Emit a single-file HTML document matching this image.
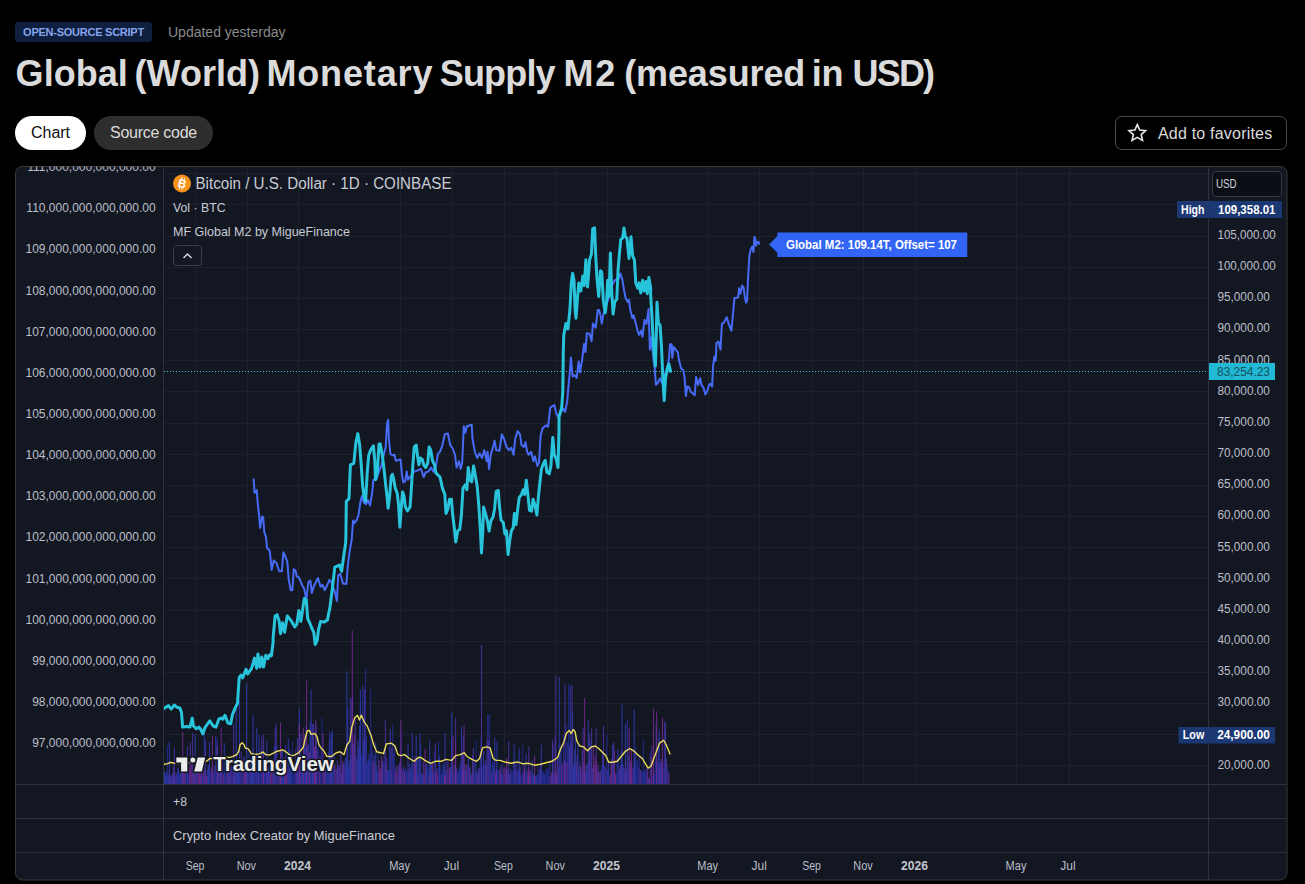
<!DOCTYPE html>
<html><head><meta charset="utf-8"><title>Global (World) Monetary Supply M2 (measured in USD)</title>
<style>
html,body{margin:0;padding:0;background:#000;}
body{width:1305px;height:884px;position:relative;overflow:hidden;font-family:"Liberation Sans", sans-serif;}
.abs{position:absolute;white-space:nowrap;}
.badge{left:15px;top:22px;width:137px;height:20px;background:#0f1f40;border-radius:3px;color:#86a5ea;font-weight:bold;font-size:11px;line-height:20px;text-align:center;letter-spacing:-0.25px;}
.upd{left:168px;top:24px;font-size:14px;color:#8a8a8a;line-height:16px;}
h1{margin:0;left:0;top:52px;width:1000px;height:44px;font-size:36px;line-height:44px;color:#dbdbdb;font-weight:bold;}
h1 span{position:absolute;top:0;white-space:nowrap;}
.pill{top:116px;height:34px;border-radius:17px;font-size:16px;line-height:34px;text-align:center;}
.p1{left:15px;width:71px;background:#fff;color:#0f0f0f;}
.p2{left:94px;width:119px;background:#2e2e2e;color:#dbdbdb;letter-spacing:-0.28px;}
.fav{left:1115px;top:116px;width:170px;height:32px;border:1px solid #4a4a4a;border-radius:7px;color:#dbdbdb;font-size:16px;line-height:32px;}
.fav span{position:absolute;left:42px;top:0.5px;letter-spacing:0.2px;}
.fav svg{position:absolute;left:10.5px;top:5.6px;width:20.6px;height:19.2px;}
</style></head><body>
<div class="abs badge">OPEN-SOURCE SCRIPT</div>
<div class="abs upd">Updated yesterday</div>
<h1 class="abs"><span style="left:15.6px;letter-spacing:0.04px">Global </span><span style="left:134.6px;letter-spacing:0.0px">(World) </span><span style="left:266.4px;letter-spacing:0.87px">Monetary </span><span style="left:439.8px;letter-spacing:-0.84px">Supply </span><span style="left:563.5px;letter-spacing:1.8px">M2 </span><span style="left:624.2px;letter-spacing:-0.12px">(measured </span><span style="left:811.8px;letter-spacing:-0.4px">in </span><span style="left:852.5px;letter-spacing:-1.8px">USD)</span></h1>
<div class="abs pill p1">Chart</div>
<div class="abs pill p2">Source code</div>
<div class="abs fav"><svg width="22" height="21" viewBox="0 0 22 21"><path d="M11 1.8l2.7 5.9 6.4.7-4.8 4.3 1.4 6.3L11 15.7 5.3 19l1.4-6.3L1.9 8.4l6.4-.7z" fill="none" stroke="#e6e6e6" stroke-width="1.8" stroke-linejoin="miter"/></svg><span>Add to favorites</span></div>
<svg width="1305" height="884" viewBox="0 0 1305 884" style="position:absolute;left:0;top:0" font-family='"Liberation Sans", sans-serif'>
<defs><clipPath id="box"><rect x="15.5" y="166.5" width="1271.5" height="713.5" rx="7"/></clipPath><clipPath id="pane"><rect x="164" y="167" width="1045" height="617"/></clipPath></defs>
<rect x="15.5" y="166.5" width="1271.5" height="713.5" rx="7" fill="#131722" stroke="#3a3a3a" stroke-width="1"/>
<g clip-path="url(#box)">
<rect x="195" y="167" width="1" height="617" fill="#1d212d"/>
<rect x="247" y="167" width="1" height="617" fill="#1d212d"/>
<rect x="298" y="167" width="1" height="617" fill="#1d212d"/>
<rect x="400" y="167" width="1" height="617" fill="#1d212d"/>
<rect x="452" y="167" width="1" height="617" fill="#1d212d"/>
<rect x="504" y="167" width="1" height="617" fill="#1d212d"/>
<rect x="555" y="167" width="1" height="617" fill="#1d212d"/>
<rect x="607" y="167" width="1" height="617" fill="#1d212d"/>
<rect x="708" y="167" width="1" height="617" fill="#1d212d"/>
<rect x="759" y="167" width="1" height="617" fill="#1d212d"/>
<rect x="812" y="167" width="1" height="617" fill="#1d212d"/>
<rect x="863" y="167" width="1" height="617" fill="#1d212d"/>
<rect x="915" y="167" width="1" height="617" fill="#1d212d"/>
<rect x="1016" y="167" width="1" height="617" fill="#1d212d"/>
<rect x="1069" y="167" width="1" height="617" fill="#1d212d"/>
<rect x="164" y="173" width="1045" height="1" fill="#1d212d"/>
<rect x="164" y="204" width="1045" height="1" fill="#1d212d"/>
<rect x="164" y="236" width="1045" height="1" fill="#1d212d"/>
<rect x="164" y="267" width="1045" height="1" fill="#1d212d"/>
<rect x="164" y="298" width="1045" height="1" fill="#1d212d"/>
<rect x="164" y="329" width="1045" height="1" fill="#1d212d"/>
<rect x="164" y="360" width="1045" height="1" fill="#1d212d"/>
<rect x="164" y="391" width="1045" height="1" fill="#1d212d"/>
<rect x="164" y="423" width="1045" height="1" fill="#1d212d"/>
<rect x="164" y="454" width="1045" height="1" fill="#1d212d"/>
<rect x="164" y="485" width="1045" height="1" fill="#1d212d"/>
<rect x="164" y="516" width="1045" height="1" fill="#1d212d"/>
<rect x="164" y="547" width="1045" height="1" fill="#1d212d"/>
<rect x="164" y="578" width="1045" height="1" fill="#1d212d"/>
<rect x="164" y="610" width="1045" height="1" fill="#1d212d"/>
<rect x="164" y="641" width="1045" height="1" fill="#1d212d"/>
<rect x="164" y="672" width="1045" height="1" fill="#1d212d"/>
<rect x="164" y="703" width="1045" height="1" fill="#1d212d"/>
<rect x="164" y="734" width="1045" height="1" fill="#1d212d"/>
<rect x="164" y="765" width="1045" height="1" fill="#1d212d"/>
<g clip-path="url(#pane)">
<path d="M167.4 784V745.4M169.9 784V775.0M174.2 784V776.7M177.6 784V767.5M179.3 784V775.4M182.7 784V767.4M186.1 784V771.4M187.8 784V762.7M188.6 784V775.0M203.1 784V776.2M209.9 784V770.8M210.7 784V771.7M215.0 784V765.2M217.5 784V745.4M221.8 784V771.2M222.6 784V759.8M225.2 784V768.6M232.8 784V774.4M233.7 784V772.3M240.5 784V767.3M242.2 784V764.3M246.4 784V759.0M249.0 784V750.0M253.2 784V748.1M254.9 784V754.3M257.5 784V766.2M259.2 784V757.0M260.0 784V759.9M260.9 784V747.2M262.6 784V752.1M265.1 784V773.6M266.0 784V763.4M277.0 784V744.7M291.5 784V765.6M292.4 784V741.4M293.2 784V774.0M294.1 784V769.0M294.9 784V762.1M311.9 784V758.1M317.9 784V749.1M318.7 784V743.9M320.4 784V756.2M321.3 784V748.2M322.1 784V717.9M326.4 784V772.0M328.1 784V769.7M331.5 784V770.8M333.2 784V763.8M335.7 784V769.2M345.1 784V759.3M346.8 784V767.8M348.5 784V766.8M352.7 784V694.6M356.1 784V755.7M360.4 784V704.3M361.2 784V755.2M362.1 784V755.8M365.5 784V669.2M367.2 784V763.7M369.7 784V759.1M370.6 784V689.6M371.4 784V741.5M372.3 784V750.8M378.2 784V752.1M383.3 784V761.2M384.2 784V751.4M389.3 784V747.5M392.7 784V724.3M393.5 784V752.7M394.4 784V745.5M397.8 784V773.6M401.2 784V729.9M405.4 784V767.9M407.1 784V772.5M411.4 784V770.4M412.2 784V762.5M416.5 784V772.1M420.7 784V744.2M427.5 784V764.0M428.4 784V768.7M434.3 784V750.6M435.2 784V772.3M438.6 784V740.9M440.3 784V765.8M442.0 784V770.2M442.8 784V763.0M447.1 784V759.6M448.8 784V770.5M451.3 784V739.0M453.9 784V774.8M457.3 784V769.1M459.0 784V770.0M460.7 784V760.4M467.5 784V766.3M474.3 784V774.1M476.0 784V740.3M480.2 784V750.8M482.8 784V771.3M484.5 784V765.0M489.6 784V715.1M493.0 784V760.6M497.2 784V770.8M498.1 784V770.8M498.9 784V768.7M503.2 784V774.5M504.9 784V767.5M508.3 784V768.0M511.7 784V771.6M512.5 784V771.4M513.4 784V758.6M516.8 784V762.0M517.6 784V769.7M519.3 784V769.0M521.0 784V774.0M521.9 784V775.3M522.7 784V745.4M525.3 784V770.7M531.2 784V770.1M538.0 784V766.6M538.9 784V774.6M542.3 784V772.6M543.1 784V770.7M544.8 784V776.7M545.7 784V769.2M546.5 784V771.2M547.4 784V768.9M548.2 784V767.7M549.9 784V761.8M553.3 784V774.1M560.1 784V743.6M562.7 784V763.6M563.5 784V734.9M565.2 784V759.7M566.1 784V724.4M568.6 784V683.7M572.9 784V765.1M579.7 784V761.1M581.4 784V770.8M589.0 784V757.9M590.7 784V740.2M601.8 784V765.8M604.3 784V766.1M606.9 784V734.6M609.4 784V776.4M612.8 784V757.9M617.1 784V756.8M618.8 784V764.4M622.2 784V762.5M628.1 784V769.6M632.4 784V767.7M634.1 784V761.0M635.8 784V746.6M636.6 784V767.0M637.5 784V760.4M638.3 784V766.8M639.2 784V755.9M641.7 784V770.5M642.6 784V772.0M643.4 784V739.0M645.1 784V770.4M646.0 784V773.9M650.2 784V751.2M652.8 784V776.1M654.5 784V774.5M655.3 784V760.4M657.9 784V758.6M663.0 784V761.4M663.8 784V768.9M667.2 784V766.3M668.1 784V769.4" stroke="#212b96" stroke-width="1.1" fill="none" opacity="0.82"/>
<path d="M164.0 784V772.2M164.8 784V771.1M165.7 784V775.6M166.5 784V771.9M168.2 784V776.8M171.6 784V776.5M172.5 784V773.0M175.0 784V776.7M176.7 784V774.1M178.4 784V768.6M180.1 784V771.7M181.0 784V768.6M181.8 784V767.5M186.9 784V773.0M192.0 784V771.6M195.4 784V769.7M196.3 784V764.2M200.5 784V774.8M202.2 784V761.8M207.3 784V770.0M208.2 784V764.8M209.0 784V766.7M213.3 784V773.4M215.8 784V736.0M220.1 784V770.3M220.9 784V772.9M224.3 784V743.1M226.0 784V774.4M228.6 784V771.3M231.1 784V766.5M234.5 784V764.2M236.2 784V760.7M237.1 784V771.5M237.9 784V758.9M238.8 784V759.4M239.6 784V761.8M243.9 784V756.4M247.3 784V769.1M249.8 784V761.0M250.7 784V760.6M252.4 784V769.6M254.1 784V757.2M256.6 784V727.9M264.3 784V765.6M268.5 784V766.6M269.4 784V769.0M272.8 784V759.6M274.5 784V746.3M275.3 784V736.2M277.9 784V760.9M281.3 784V750.2M282.2 784V750.0M283.0 784V767.8M283.9 784V772.3M285.6 784V745.1M288.1 784V769.4M289.0 784V773.6M289.8 784V748.9M290.7 784V762.4M297.5 784V738.3M300.9 784V733.6M301.7 784V758.0M302.6 784V757.2M304.3 784V734.8M305.1 784V748.1M306.0 784V726.1M306.8 784V759.3M307.7 784V746.8M308.5 784V744.0M310.2 784V722.1M311.1 784V689.4M312.8 784V756.0M313.6 784V723.8M315.3 784V746.6M316.2 784V725.8M327.2 784V766.1M328.9 784V750.9M329.8 784V731.7M332.3 784V730.5M334.0 784V754.5M340.0 784V764.7M343.4 784V763.1M345.9 784V757.2M347.6 784V708.2M349.3 784V760.4M350.2 784V698.0M351.0 784V755.3M353.6 784V743.4M357.0 784V760.1M357.8 784V739.8M358.7 784V747.1M359.5 784V726.2M362.9 784V686.3M363.8 784V739.8M366.3 784V736.6M368.0 784V760.5M368.9 784V753.8M374.0 784V755.0M375.7 784V742.3M376.5 784V765.7M377.4 784V772.8M385.9 784V764.0M387.6 784V769.9M388.4 784V769.9M390.1 784V757.5M391.0 784V769.7M396.1 784V767.3M400.3 784V769.1M402.9 784V770.1M406.3 784V769.4M408.0 784V744.0M409.7 784V763.7M410.5 784V767.8M413.1 784V774.2M417.3 784V758.3M419.0 784V757.5M419.9 784V733.6M421.6 784V773.0M422.4 784V775.1M425.8 784V766.7M426.7 784V763.6M430.1 784V758.8M430.9 784V763.2M431.8 784V764.9M433.5 784V771.7M439.4 784V756.8M441.1 784V774.5M443.7 784V765.1M446.2 784V770.2M450.5 784V767.3M452.2 784V770.5M454.7 784V764.9M458.1 784V771.9M459.8 784V766.4M461.5 784V727.1M464.9 784V764.3M465.8 784V770.0M468.3 784V757.2M475.1 784V760.7M478.5 784V768.1M481.1 784V737.8M481.9 784V765.0M483.6 784V751.2M487.9 784V714.3M490.4 784V748.6M492.1 784V763.6M493.8 784V766.5M494.7 784V737.5M501.5 784V774.3M502.3 784V763.4M507.4 784V770.1M509.1 784V773.0M510.8 784V768.4M514.2 784V743.4M518.5 784V771.0M526.1 784V753.3M527.0 784V774.1M529.5 784V776.8M532.1 784V760.4M532.9 784V773.9M533.8 784V774.8M535.5 784V776.0M536.3 784V777.3M537.2 784V774.0M540.6 784V764.2M541.4 784V775.6M544.0 784V773.2M550.8 784V776.2M559.3 784V767.8M561.0 784V748.1M567.8 784V742.4M570.3 784V685.6M571.2 784V743.5M573.7 784V765.2M574.6 784V749.6M575.4 784V733.5M578.0 784V742.9M578.8 784V767.3M584.8 784V766.7M585.6 784V771.7M586.5 784V764.8M588.2 784V719.7M592.4 784V768.3M600.9 784V770.0M602.6 784V752.4M605.2 784V766.6M607.7 784V770.6M608.6 784V762.0M616.2 784V773.2M617.9 784V748.8M621.3 784V750.8M623.0 784V764.6M624.7 784V770.6M627.3 784V719.8M629.0 784V756.1M629.8 784V765.5M634.9 784V752.0M640.9 784V770.1M644.3 784V770.6M646.8 784V767.8M648.5 784V778.3M653.6 784V771.0M656.2 784V723.7M657.0 784V763.6M658.7 784V737.8M660.4 784V762.4M662.1 784V763.5M664.7 784V721.3M169.4 784V741.5M187.4 784V746.0M195.2 784V734.3M204.3 784V734.3M209.5 784V742.1M236.2 784V703.0M239.5 784V700.4M253.1 784V714.8M259.0 784V734.3M266.8 784V740.8M275.3 784V727.8M288.3 784V738.2M299.4 784V708.2M329.4 784V739.5M246.5 784V683M331.5 784V733.5M346.9 784V671.0M360.4 784V689.2M390.2 784V729.6M412.3 784V732.5M416.2 784V735.4M429.6 784V740.2M445.0 784V733.5M451.7 784V712.3M463.3 784V735.4M496.9 784V741.2M519.2 784V747.9M541.3 784V745.0M552.9 784V745.0M559.2 784V676.7M572.7 784V710.4M612.5 784V745.0M622.1 784V704.6M625.4 784V723.8M634.2 784V709.4M659.2 784V729.6" stroke="#2f3bb4" stroke-width="1.1" fill="none" opacity="0.82"/>
<path d="M169.1 784V770.3M170.8 784V774.9M173.3 784V767.2M175.9 784V772.4M183.5 784V769.5M184.4 784V759.0M190.3 784V742.5M192.9 784V774.6M193.7 784V773.3M197.1 784V757.7M198.0 784V770.9M204.8 784V771.3M205.6 784V740.7M211.6 784V767.5M214.1 784V766.4M216.7 784V745.8M218.4 784V758.1M219.2 784V768.3M226.9 784V766.4M227.7 784V762.6M229.4 784V765.5M230.3 784V766.6M232.0 784V764.9M235.4 784V771.9M241.3 784V751.6M243.0 784V759.8M248.1 784V769.3M251.5 784V768.3M255.8 784V761.8M258.3 784V761.6M261.7 784V737.1M266.8 784V768.8M267.7 784V763.6M271.1 784V768.5M273.6 784V762.3M276.2 784V722.7M278.8 784V762.4M279.6 784V770.0M280.5 784V760.5M287.3 784V756.1M295.8 784V748.4M296.6 784V767.2M298.3 784V773.1M300.0 784V754.6M317.0 784V751.0M323.8 784V768.1M324.7 784V770.7M325.5 784V762.9M330.6 784V756.5M336.6 784V768.9M337.4 784V760.3M338.3 784V764.9M339.1 784V767.4M340.8 784V752.2M341.7 784V773.1M344.2 784V764.5M351.9 784V698.8M355.3 784V717.4M364.6 784V747.1M374.8 784V763.5M380.8 784V770.9M382.5 784V761.0M385.0 784V765.5M386.7 784V758.0M391.8 784V747.6M398.6 784V766.5M399.5 784V762.4M402.0 784V769.1M403.7 784V766.5M408.8 784V771.5M413.9 784V763.4M414.8 784V756.1M418.2 784V774.7M423.3 784V761.7M424.1 784V773.9M436.9 784V768.1M456.4 784V768.0M462.4 784V753.6M469.2 784V766.9M470.0 784V767.3M470.9 784V773.4M471.7 784V775.3M472.6 784V754.8M473.4 784V748.0M476.8 784V771.2M477.7 784V774.1M479.4 784V768.8M485.3 784V760.1M486.2 784V764.7M487.0 784V739.7M488.7 784V740.2M491.3 784V772.7M496.4 784V768.7M500.6 784V766.4M505.7 784V768.8M510.0 784V773.9M515.1 784V762.4M515.9 784V769.9M520.2 784V767.1M523.6 784V770.8M539.7 784V769.2M549.1 784V776.3M552.5 784V740.2M554.2 784V771.4M555.0 784V737.0M556.7 784V775.0M557.6 784V757.6M558.4 784V766.8M569.5 784V746.9M572.0 784V684.9M576.3 784V761.9M577.1 784V754.3M582.2 784V750.3M583.1 784V728.1M587.3 784V764.0M589.9 784V760.9M591.6 784V728.3M594.1 784V764.4M595.8 784V764.5M597.5 784V771.3M598.4 784V765.4M599.2 784V771.8M603.5 784V725.6M606.0 784V768.4M612.0 784V758.0M613.7 784V742.3M619.6 784V768.7M620.5 784V765.4M623.9 784V768.0M625.6 784V761.1M626.4 784V768.0M633.2 784V767.9M651.9 784V745.5M659.6 784V766.9M661.3 784V758.7M665.5 784V723.4M666.4 784V758.7M174.3 784V747.3M192.6 784V733.0M217.3 784V739.5M233.6 784V723.9M263.6 784V734.3M312.4 784V723.9M364.6 784V689.2M385.4 784V720.0M435.4 784V743.1M455.6 784V718.1M481.5 784V645.0M508.7 784V741.2M528.8 784V746.0M555.8 784V675.8M565.0 784V684.4M589.4 784V733.5M596.2 784V728.7" stroke="#4f32a6" stroke-width="1.1" fill="none" opacity="0.82"/>
<path d="M185.2 784V769.4M189.5 784V767.7M191.2 784V762.0M194.6 784V773.4M198.8 784V766.6M199.7 784V766.6M201.4 784V771.6M203.9 784V763.7M206.5 784V776.0M212.4 784V735.9M223.5 784V774.5M244.7 784V768.3M245.6 784V758.8M263.4 784V767.6M270.2 784V768.8M271.9 784V768.3M284.7 784V757.6M286.4 784V758.6M299.2 784V723.5M303.4 784V728.3M309.4 784V752.0M314.5 784V746.3M319.6 784V757.2M323.0 784V733.1M334.9 784V764.4M342.5 784V761.1M354.4 784V735.1M373.1 784V760.8M379.1 784V760.2M379.9 784V767.6M381.6 784V756.1M395.2 784V770.9M396.9 784V765.9M404.6 784V771.7M415.6 784V759.9M425.0 784V748.7M429.2 784V776.5M432.6 784V762.5M436.0 784V772.2M437.7 784V774.5M444.5 784V775.6M445.4 784V775.5M447.9 784V762.2M449.6 784V767.2M453.0 784V736.1M455.6 784V741.5M463.2 784V768.0M464.1 784V724.7M466.6 784V764.3M495.5 784V772.5M499.8 784V770.8M504.0 784V767.3M506.6 784V758.1M524.4 784V765.7M527.8 784V770.6M528.7 784V767.5M530.4 784V770.9M534.6 784V755.8M551.6 784V772.2M555.9 784V770.9M561.8 784V764.5M564.4 784V761.2M566.9 784V762.5M580.5 784V765.8M583.9 784V761.9M593.3 784V746.4M595.0 784V755.5M596.7 784V761.8M600.1 784V772.0M610.3 784V774.9M611.1 784V762.3M614.5 784V750.8M615.4 784V773.3M630.7 784V761.3M631.5 784V749.5M640.0 784V769.8M647.7 784V769.0M649.4 784V778.1M651.1 784V757.1M668.9 784V772.6M182.8 784V731.7M221.2 784V727.8M280.5 784V722.6M315.7 784V720.0M306.6 784V680.7M352.3 784V630.6M400.8 784V720.0M584.6 784V697.9M629.2 784V727.7M653.5 784V708.5M656.7 784V711.3M662.5 784V718.1" stroke="#792a94" stroke-width="1.1" fill="none" opacity="0.82"/>
<polyline points="163.9,764.3 167.8,763.6 170.4,762.3 173.0,763.0 179.5,763.6 186.1,763.0 192.6,761.7 199.1,762.3 206.9,761.0 210.2,758.4 214.7,759.0 219.9,757.7 225.8,756.4 229.0,757.7 233.0,756.4 236.9,754.5 238.8,751.2 240.1,744.7 242.1,742.8 244.0,744.7 245.3,748.0 247.9,748.6 249.9,751.2 251.2,753.8 256.4,754.5 260.3,753.8 262.9,751.9 265.5,754.5 269.4,755.1 273.3,753.2 277.2,751.2 282.5,749.9 285.1,751.2 288.3,753.8 291.6,755.8 294.2,755.1 298.1,753.2 300.7,750.6 303.3,747.3 305.3,738.2 307.2,731.0 309.2,730.4 311.1,734.3 315.0,733.6 317.0,736.9 318.9,744.7 321.5,748.6 324.1,751.2 326.8,756.4 331.5,756.5 336.3,752.7 340.2,751.7 344.0,754.6 346.9,745.0 349.8,741.2 351.7,727.7 354.6,718.1 357.5,715.2 359.4,720.0 361.3,715.2 364.2,721.9 367.1,725.8 371.0,735.4 373.8,745.0 376.7,751.7 380.6,752.7 383.5,753.7 386.3,744.0 391.2,743.1 395.0,746.0 397.9,754.6 400.8,755.6 404.6,754.6 409.4,758.5 414.2,761.3 418.1,757.5 421.0,757.5 424.8,760.4 430.6,763.3 435.4,761.3 441.2,761.3 446.0,759.4 451.7,760.4 455.6,755.6 460.4,754.6 464.2,752.7 467.1,756.5 471.9,759.4 476.7,761.3 479.6,758.5 482.5,747.9 486.3,746.9 490.2,747.9 493.1,758.5 496.0,760.4 500.0,760.4 505.8,762.3 511.5,763.3 517.3,761.9 523.1,763.8 528.8,763.3 534.6,765.2 540.4,764.2 546.2,762.7 551.9,761.3 557.7,757.5 560.6,748.8 563.5,743.1 566.3,733.5 569.2,730.6 571.2,733.5 573.1,729.6 575.0,731.5 576.9,741.2 579.8,746.0 583.7,746.9 587.5,750.8 591.3,746.9 595.2,746.0 599.0,748.8 602.9,752.7 605.8,755.6 608.7,762.3 612.5,762.3 617.3,761.3 621.2,756.5 625.0,751.7 629.8,748.5 633.7,750.8 637.5,754.6 642.3,758.5 645.2,763.3 648.1,768.1 651.0,766.2 653.8,758.5 656.7,750.8 659.6,743.1 663.5,740.2 666.3,745.0 670.2,754.6" fill="none" stroke="#e9da5c" stroke-width="1.4" stroke-linejoin="round"/>
<line x1="164" y1="371.5" x2="1209" y2="371.5" stroke="#39c3d4" stroke-width="1" stroke-dasharray="1 2"/>
<polyline points="253.6,479.2 254.5,492.8 256.7,490.0 257.5,500.7 259.2,516.6 260.1,527.9 262.1,516.6 263.2,517.1 264.3,532.4 266.0,536.9 267.1,548.2 267.6,548.1 269.7,550.9 271.7,569.9 273.8,560.4 276.5,563.1 279.2,571.2 281.9,571.2 283.3,552.2 285.3,556.3 287.3,561.7 288.7,579.4 290.7,590.2 292.4,590.2 293.7,569.2 295.5,570.5 296.8,576.6 298.9,577.3 302.3,585.5 304.3,588.9 306.3,599.7 308.4,582.1 310.4,580.7 311.8,592.9 313.8,586.2 316.5,580.7 317.9,578.0 320.6,586.8 322.6,584.8 324.7,590.2 327.4,584.8 329.4,580.0 331.4,582.1 333.1,587.5 334.8,591.6 336.9,601.1 338.2,575.3 340.3,573.9 343.0,583.4 346.4,584.1 347.7,567.1 349.1,554.9 351.1,542.7 351.7,540.0 353.1,520.4 354.4,523.2 356.5,520.4 358.5,515.0 360.5,501.4 361.9,496.0 363.9,502.8 366.0,504.2 368.0,500.1 370.0,505.5 372.1,493.3 373.4,479.7 376.2,479.7 378.9,471.6 381.6,464.8 384.3,452.6 385.7,447.1 387.0,424.1 388.1,420.0 389.0,440.4 390.4,453.9 392.4,455.3 394.5,454.6 395.8,460.7 398.5,460.0 400.6,459.4 401.9,474.3 403.3,482.4 405.3,481.1 406.7,471.6 408.1,479.7 410.1,477.0 412.1,474.3 414.2,471.6 418.2,470.2 420.9,468.9 423.7,477.0 425.7,472.3 428.4,471.6 431.1,467.5 433.2,471.6 435.9,466.2 437.9,453.9 440.0,451.7 442.4,445.3 444.8,434.3 447.9,433.5 450.3,445.3 452.7,448.5 455.0,454.8 456.6,467.5 459.0,461.2 460.6,469.1 462.2,462.8 463.8,426.3 465.3,432.7 466.9,426.3 469.3,425.5 471.7,424.8 472.5,439.0 474.8,451.7 477.2,458.0 479.6,453.3 482.0,458.0 484.3,450.1 486.7,461.2 487.5,451.7 489.1,469.1 490.7,454.8 493.1,446.9 494.6,440.6 496.2,450.1 499.4,450.9 501.8,434.3 504.1,439.0 506.5,446.9 508.9,450.1 511.3,447.7 513.6,454.8 515.2,439.0 517.6,431.1 520.0,434.3 521.6,445.3 523.9,446.9 525.5,442.2 527.1,451.7 528.7,454.8 531.1,451.7 533.4,461.2 535.0,456.4 537.4,465.9 539.0,462.8 540.6,435.8 542.7,428.1 546.1,425.4 548.1,426.7 550.2,407.7 552.2,406.4 554.3,405.0 556.3,413.2 558.3,417.2 560.4,411.8 563.8,409.1 565.1,411.8 567.1,402.3 568.5,386.0 569.9,371.1 570.9,357.5 572.6,376.5 574.6,375.2 576.6,377.9 578.7,361.6 580.0,372.4 582.1,360.2 584.1,343.9 585.5,352.1 586.8,333.1 589.5,333.8 591.6,341.2 592.9,323.6 595.7,327.6 597.7,310.0 599.1,310.0 600.5,315.4 601.8,323.6 603.2,315.4 604.5,310.0 607.3,301.9 609.3,296.4 610.7,288.3 612.0,285.6 614.7,280.2 618.8,278.8 620.2,273.4 622.2,278.8 624.2,291.0 625.6,297.8 627.6,301.9 629.0,299.8 630.3,310.0 632.4,318.2 633.7,315.4 635.8,323.6 637.8,331.7 639.1,334.8 641.1,330.7 642.5,336.8 644.5,319.9 646.5,323.9 648.6,309.0 649.9,349.7 651.3,337.5 653.3,357.9 654.7,368.7 656.0,385.0 658.1,382.3 660.1,378.2 662.1,383.7 664.2,376.9 667.6,366.0 668.9,359.2 670.0,344.3 671.6,344.3 672.3,357.9 673.7,347.0 675.7,349.7 677.8,352.4 679.1,360.6 681.2,368.7 683.2,370.1 684.5,376.9 685.9,395.9 687.3,386.4 689.3,387.7 690.7,391.8 692.7,393.2 694.7,395.2 696.1,376.9 698.1,385.0 700.2,378.2 701.5,385.0 703.5,387.7 705.3,394.5 706.9,391.8 709.0,385.0 710.3,383.7 712.1,386.4 713.1,366.0 714.4,356.5 715.8,360.6 716.4,342.9 718.5,341.6 720.5,349.7 721.9,323.9 723.9,322.6 726.6,317.1 728.7,323.9 731.4,330.7 732.7,317.1 734.4,298.1 738.1,297.4 739.0,288.3 740.3,293.8 742.1,285.6 743.5,287.4 744.9,297.4 746.2,302.8 747.1,300.1 748.0,279.3 749.4,255.8 750.7,249.4 752.1,246.7 753.5,252.1 754.4,236.8 755.3,238.6 756.2,245.8 757.1,242.2 758.4,241.7 759.3,244.0" fill="none" stroke="#476bf6" stroke-width="2" stroke-linejoin="round" stroke-linecap="round"/>
<polyline points="164.0,708.4 168.5,705.6 171.3,709.0 174.1,705.0 177.0,707.3 179.8,707.9 181.5,712.4 182.6,727.1 187.1,726.5 190.0,727.1 192.2,718.1 193.4,726.0 196.2,728.8 199.0,727.1 200.7,729.4 202.8,733.9 205.2,727.1 209.8,720.9 213.2,726.0 216.0,727.1 218.8,719.2 221.1,718.1 222.8,719.2 225.0,715.2 227.9,723.1 230.7,723.7 232.4,714.7 235.2,707.9 237.5,703.3 239.2,677.3 240.9,675.1 242.6,677.9 246.0,669.4 247.7,673.9 251.6,668.3 254.5,658.1 256.7,668.3 257.9,654.1 260.1,667.1 261.8,657.0 263.5,667.1 265.8,655.3 268.0,658.7 269.7,654.7 271.4,655.8 273.1,642.3 273.1,637.7 275.1,616.0 277.1,614.7 279.2,621.4 280.5,633.7 282.6,622.8 284.6,632.3 287.3,616.0 290.7,620.1 294.8,626.9 296.8,624.2 298.9,610.6 300.9,621.4 304.3,598.4 306.3,599.7 307.7,618.7 309.7,622.8 311.8,628.2 313.8,632.3 315.2,644.5 317.2,640.4 318.5,629.6 320.6,621.4 324.0,622.1 327.4,620.1 330.1,606.5 332.8,584.8 334.8,567.1 339.6,565.1 341.6,571.2 343.7,556.3 345.7,542.7 345.9,535.4 346.3,501.4 349.0,498.7 350.4,464.8 353.8,463.4 355.8,443.1 357.8,433.6 359.6,444.4 360.9,460.7 362.6,485.2 363.9,496.0 365.6,501.4 367.3,471.6 368.7,455.3 370.7,449.9 373.4,445.8 374.8,460.7 375.5,479.7 377.5,471.6 378.9,444.4 380.2,443.8 382.3,455.3 384.3,471.6 385.7,485.2 387.0,496.0 388.1,508.2 389.7,496.0 391.1,477.0 392.4,474.3 393.8,479.7 395.2,487.9 397.2,493.3 398.5,504.2 399.9,527.2 401.3,506.9 402.6,491.9 404.0,496.0 405.3,506.9 407.4,510.9 410.1,506.9 411.4,487.9 412.8,466.2 414.2,447.1 416.2,445.1 417.6,456.6 418.9,464.8 420.3,458.0 422.3,459.4 423.7,464.8 425.7,467.5 427.7,463.4 429.1,447.1 430.7,449.9 432.5,460.7 434.5,464.8 435.9,472.9 438.6,475.7 440.0,477.0 442.4,488.1 444.8,494.4 446.0,513.4 447.9,508.7 449.5,499.2 451.4,499.2 452.7,515.0 454.3,527.7 455.8,542.0 457.7,530.9 459.8,529.3 461.4,515.0 463.0,488.1 465.3,484.9 466.9,489.7 468.2,467.5 470.1,480.2 471.7,481.8 473.6,465.9 475.6,477.0 477.2,486.5 478.8,505.5 480.4,530.9 481.5,553.0 482.8,530.9 483.6,507.1 485.9,515.0 487.5,521.4 489.1,530.9 490.7,521.4 493.1,516.6 494.6,508.7 496.2,491.3 498.3,490.5 499.4,505.5 501.0,519.8 503.4,522.9 504.9,534.0 506.5,530.9 508.1,554.6 509.7,540.4 511.3,530.9 513.2,527.7 514.4,513.4 516.0,524.5 517.6,510.3 519.2,497.6 521.6,494.4 523.1,489.7 524.7,494.4 526.3,480.2 527.9,494.4 529.5,510.3 531.5,511.1 533.1,499.2 535.0,505.5 536.9,515.0 538.2,499.2 539.8,483.4 541.4,469.1 543.7,462.8 545.3,460.4 546.9,472.3 549.3,473.8 550.9,465.9 552.8,437.4 554.3,454.8 556.4,459.6 558.0,467.5 559.0,430.0 559.0,417.2 561.7,407.7 562.8,391.4 563.3,350.7 563.8,335.0 565.9,323.6 567.9,329.0 569.9,310.0 571.3,282.9 572.6,273.4 574.0,280.2 575.1,310.0 576.0,318.2 577.4,299.2 578.8,282.9 580.8,291.0 582.8,276.1 584.2,285.6 585.9,259.8 587.6,286.9 589.6,259.8 591.4,254.4 592.7,228.6 594.6,227.9 595.7,255.7 597.1,280.2 598.7,296.4 600.5,270.7 601.8,272.0 603.2,299.2 605.2,312.7 606.6,301.9 607.7,280.2 609.0,296.4 610.4,253.0 611.7,291.0 613.1,314.1 614.7,301.9 616.8,299.2 618.1,269.3 619.5,253.0 620.8,239.4 622.6,238.1 624.0,227.9 625.3,236.7 626.9,238.1 629.0,258.4 631.0,236.7 632.6,255.7 634.4,259.8 635.8,282.9 637.8,288.3 639.2,282.9 640.8,293.1 642.6,280.2 644.3,291.0 645.9,281.5 647.3,293.7 648.9,277.4 650.7,288.3 650.6,294.1 652.0,317.1 653.3,344.3 655.4,366.0 656.4,330.7 657.0,302.2 658.3,322.6 660.1,325.3 661.5,347.0 662.8,376.9 664.2,400.6 665.5,378.2 667.6,367.4 668.9,364.0 670.6,371.4" fill="none" stroke="#28c4dc" stroke-width="3" stroke-linejoin="round" stroke-linecap="round"/>
</g>
<rect x="163" y="167" width="1" height="713" fill="#2e3240"/>
<rect x="1208" y="167" width="1" height="713" fill="#2e3240"/>
<rect x="15" y="784" width="1272" height="1" fill="#2e3240"/>
<rect x="15" y="818" width="1272" height="1" fill="#2e3240"/>
<rect x="15" y="852" width="1272" height="1" fill="#2e3240"/>
<text x="155.6" y="171.1" font-size="12" fill="#bcbfc8" text-anchor="end" font-weight="normal">111,000,000,000,000.00</text>
<text x="155.6" y="212.2" font-size="12" fill="#bcbfc8" text-anchor="end" font-weight="normal">110,000,000,000,000.00</text>
<text x="155.6" y="253.4" font-size="12" fill="#bcbfc8" text-anchor="end" font-weight="normal">109,000,000,000,000.00</text>
<text x="155.6" y="294.6" font-size="12" fill="#bcbfc8" text-anchor="end" font-weight="normal">108,000,000,000,000.00</text>
<text x="155.6" y="335.7" font-size="12" fill="#bcbfc8" text-anchor="end" font-weight="normal">107,000,000,000,000.00</text>
<text x="155.6" y="376.9" font-size="12" fill="#bcbfc8" text-anchor="end" font-weight="normal">106,000,000,000,000.00</text>
<text x="155.6" y="418.0" font-size="12" fill="#bcbfc8" text-anchor="end" font-weight="normal">105,000,000,000,000.00</text>
<text x="155.6" y="459.2" font-size="12" fill="#bcbfc8" text-anchor="end" font-weight="normal">104,000,000,000,000.00</text>
<text x="155.6" y="500.3" font-size="12" fill="#bcbfc8" text-anchor="end" font-weight="normal">103,000,000,000,000.00</text>
<text x="155.6" y="541.4" font-size="12" fill="#bcbfc8" text-anchor="end" font-weight="normal">102,000,000,000,000.00</text>
<text x="155.6" y="582.6" font-size="12" fill="#bcbfc8" text-anchor="end" font-weight="normal">101,000,000,000,000.00</text>
<text x="155.6" y="623.8" font-size="12" fill="#bcbfc8" text-anchor="end" font-weight="normal">100,000,000,000,000.00</text>
<text x="155.6" y="664.9" font-size="12" fill="#bcbfc8" text-anchor="end" font-weight="normal">99,000,000,000,000.00</text>
<text x="155.6" y="706.0" font-size="12" fill="#bcbfc8" text-anchor="end" font-weight="normal">98,000,000,000,000.00</text>
<text x="155.6" y="747.2" font-size="12" fill="#bcbfc8" text-anchor="end" font-weight="normal">97,000,000,000,000.00</text>
<text x="1217.4" y="238.8" font-size="12" fill="#bcbfc8" text-anchor="start" font-weight="normal" textLength="58.4" lengthAdjust="spacingAndGlyphs">105,000.00</text>
<text x="1217.4" y="270.0" font-size="12" fill="#bcbfc8" text-anchor="start" font-weight="normal" textLength="58.4" lengthAdjust="spacingAndGlyphs">100,000.00</text>
<text x="1217.4" y="301.1" font-size="12" fill="#bcbfc8" text-anchor="start" font-weight="normal" textLength="52.5" lengthAdjust="spacingAndGlyphs">95,000.00</text>
<text x="1217.4" y="332.3" font-size="12" fill="#bcbfc8" text-anchor="start" font-weight="normal" textLength="52.5" lengthAdjust="spacingAndGlyphs">90,000.00</text>
<text x="1217.4" y="363.5" font-size="12" fill="#bcbfc8" text-anchor="start" font-weight="normal" textLength="52.5" lengthAdjust="spacingAndGlyphs">85,000.00</text>
<text x="1217.4" y="394.7" font-size="12" fill="#bcbfc8" text-anchor="start" font-weight="normal" textLength="52.5" lengthAdjust="spacingAndGlyphs">80,000.00</text>
<text x="1217.4" y="425.8" font-size="12" fill="#bcbfc8" text-anchor="start" font-weight="normal" textLength="52.5" lengthAdjust="spacingAndGlyphs">75,000.00</text>
<text x="1217.4" y="457.0" font-size="12" fill="#bcbfc8" text-anchor="start" font-weight="normal" textLength="52.5" lengthAdjust="spacingAndGlyphs">70,000.00</text>
<text x="1217.4" y="488.2" font-size="12" fill="#bcbfc8" text-anchor="start" font-weight="normal" textLength="52.5" lengthAdjust="spacingAndGlyphs">65,000.00</text>
<text x="1217.4" y="519.3" font-size="12" fill="#bcbfc8" text-anchor="start" font-weight="normal" textLength="52.5" lengthAdjust="spacingAndGlyphs">60,000.00</text>
<text x="1217.4" y="550.5" font-size="12" fill="#bcbfc8" text-anchor="start" font-weight="normal" textLength="52.5" lengthAdjust="spacingAndGlyphs">55,000.00</text>
<text x="1217.4" y="581.7" font-size="12" fill="#bcbfc8" text-anchor="start" font-weight="normal" textLength="52.5" lengthAdjust="spacingAndGlyphs">50,000.00</text>
<text x="1217.4" y="612.8" font-size="12" fill="#bcbfc8" text-anchor="start" font-weight="normal" textLength="52.5" lengthAdjust="spacingAndGlyphs">45,000.00</text>
<text x="1217.4" y="644.0" font-size="12" fill="#bcbfc8" text-anchor="start" font-weight="normal" textLength="52.5" lengthAdjust="spacingAndGlyphs">40,000.00</text>
<text x="1217.4" y="675.2" font-size="12" fill="#bcbfc8" text-anchor="start" font-weight="normal" textLength="52.5" lengthAdjust="spacingAndGlyphs">35,000.00</text>
<text x="1217.4" y="706.3" font-size="12" fill="#bcbfc8" text-anchor="start" font-weight="normal" textLength="52.5" lengthAdjust="spacingAndGlyphs">30,000.00</text>
<text x="1217.4" y="737.5" font-size="12" fill="#bcbfc8" text-anchor="start" font-weight="normal" textLength="52.5" lengthAdjust="spacingAndGlyphs">25,000.00</text>
<text x="1217.4" y="768.7" font-size="12" fill="#bcbfc8" text-anchor="start" font-weight="normal" textLength="52.5" lengthAdjust="spacingAndGlyphs">20,000.00</text>
<rect x="1212.5" y="171.5" width="69" height="25" rx="3.5" fill="#0c0e15" stroke="#363a45"/>
<text x="1216" y="187.7" font-size="12" fill="#d1d4dc" text-anchor="start" font-weight="normal" textLength="20.7" lengthAdjust="spacingAndGlyphs">USD</text>
<rect x="1177" y="201" width="105" height="17" fill="#1c3873"/>
<text x="1181" y="213.8" font-size="12" fill="#ffffff" text-anchor="start" font-weight="bold" textLength="23.5" lengthAdjust="spacingAndGlyphs">High</text>
<text x="1218" y="213.8" font-size="12" fill="#ffffff" text-anchor="start" font-weight="bold" textLength="57.5" lengthAdjust="spacingAndGlyphs">109,358.01</text>
<rect x="1178.5" y="727" width="96.5" height="16.5" fill="#1c3873"/>
<text x="1182.8" y="739" font-size="12" fill="#ffffff" text-anchor="start" font-weight="bold" textLength="21.5" lengthAdjust="spacingAndGlyphs">Low</text>
<text x="1217.2" y="739" font-size="12" fill="#ffffff" text-anchor="start" font-weight="bold" textLength="52.6" lengthAdjust="spacingAndGlyphs">24,900.00</text>
<rect x="1209" y="363" width="66" height="17" fill="#22b9d4"/>
<text x="1217" y="375.8" font-size="12" fill="#14505e" text-anchor="start" font-weight="normal" textLength="53" lengthAdjust="spacingAndGlyphs">83,254.23</text>
<circle cx="182" cy="183.5" r="9" fill="#f7931a"/>
<g transform="rotate(13 182 183.5)"><text x="182.2" y="187.6" font-size="11.5" font-weight="bold" fill="#fff" text-anchor="middle">B</text><path d="M180.6 177.6v2.2M183.2 177.6v2.2M180.6 187.4v2.2M183.2 187.4v2.2" stroke="#fff" stroke-width="1.1"/></g>
<text x="195.5" y="189.3" font-size="16" fill="#c9ccd4" text-anchor="start" font-weight="normal" textLength="256" lengthAdjust="spacingAndGlyphs">Bitcoin / U.S. Dollar · 1D · COINBASE</text>
<text x="173" y="212" font-size="13" fill="#c9ccd4" text-anchor="start" font-weight="normal" textLength="52.5" lengthAdjust="spacingAndGlyphs">Vol · BTC</text>
<text x="173" y="236" font-size="13" fill="#c9ccd4" text-anchor="start" font-weight="normal" textLength="177" lengthAdjust="spacingAndGlyphs">MF Global M2 by MigueFinance</text>
<rect x="173.5" y="245.5" width="28" height="20" rx="3" fill="#131722" stroke="#3a3e4a"/>
<path d="M183.5 258l4-4 4 4" fill="none" stroke="#d1d4dc" stroke-width="1.5"/>
<path d="M769 244.5l8.3-8.3V232.5h190v24.5h-190v-4.2z" fill="#3265f5"/>
<text x="786" y="248.8" font-size="12" fill="#ffffff" text-anchor="start" font-weight="bold" textLength="171" lengthAdjust="spacingAndGlyphs">Global M2: 109.14T, Offset= 107</text>
<text x="173" y="805.5" font-size="13" fill="#c9ccd4" text-anchor="start" font-weight="normal" textLength="14" lengthAdjust="spacingAndGlyphs">+8</text>
<text x="173" y="839.5" font-size="13" fill="#c9ccd4" text-anchor="start" font-weight="normal" textLength="222" lengthAdjust="spacingAndGlyphs">Crypto Index Creator by MigueFinance</text>
<g stroke="#131722" stroke-width="3" stroke-linejoin="round" fill="#131722"><path d="M176.3 757.4h11v14h-6.2v-8.9h-4.8z"/><circle cx="192.8" cy="759.9" r="2.5"/><path d="M197.7 757.4h7.5l-3.4 14h-7.6z"/><text x="213.3" y="771.4" font-size="21" font-weight="bold" textLength="120.5" lengthAdjust="spacingAndGlyphs">TradingView</text></g>
<g fill="#ececec"><path d="M176.3 757.4h11v14h-6.2v-8.9h-4.8z"/><circle cx="192.8" cy="759.9" r="2.5"/><path d="M197.7 757.4h7.5l-3.4 14h-7.6z"/><text x="213.3" y="771.4" font-size="21" font-weight="bold" textLength="120.5" lengthAdjust="spacingAndGlyphs">TradingView</text></g>
<text x="195" y="870" font-size="12" fill="#bcbfc8" text-anchor="middle" font-weight="normal" textLength="18.7" lengthAdjust="spacingAndGlyphs">Sep</text>
<text x="246.3" y="870" font-size="12" fill="#bcbfc8" text-anchor="middle" font-weight="normal" textLength="19.3" lengthAdjust="spacingAndGlyphs">Nov</text>
<text x="297.5" y="870" font-size="12" fill="#c4c7cf" text-anchor="middle" font-weight="bold" textLength="27" lengthAdjust="spacingAndGlyphs">2024</text>
<text x="399.6" y="870" font-size="12" fill="#bcbfc8" text-anchor="middle" font-weight="normal" textLength="20.8" lengthAdjust="spacingAndGlyphs">May</text>
<text x="451.4" y="870" font-size="12" fill="#bcbfc8" text-anchor="middle" font-weight="normal" textLength="15.3" lengthAdjust="spacingAndGlyphs">Jul</text>
<text x="503.4" y="870" font-size="12" fill="#bcbfc8" text-anchor="middle" font-weight="normal" textLength="18.7" lengthAdjust="spacingAndGlyphs">Sep</text>
<text x="555.2" y="870" font-size="12" fill="#bcbfc8" text-anchor="middle" font-weight="normal" textLength="19.3" lengthAdjust="spacingAndGlyphs">Nov</text>
<text x="606.5" y="870" font-size="12" fill="#c4c7cf" text-anchor="middle" font-weight="bold" textLength="27" lengthAdjust="spacingAndGlyphs">2025</text>
<text x="707.7" y="870" font-size="12" fill="#bcbfc8" text-anchor="middle" font-weight="normal" textLength="20.8" lengthAdjust="spacingAndGlyphs">May</text>
<text x="759.2" y="870" font-size="12" fill="#bcbfc8" text-anchor="middle" font-weight="normal" textLength="15.3" lengthAdjust="spacingAndGlyphs">Jul</text>
<text x="811.6" y="870" font-size="12" fill="#bcbfc8" text-anchor="middle" font-weight="normal" textLength="18.7" lengthAdjust="spacingAndGlyphs">Sep</text>
<text x="863" y="870" font-size="12" fill="#bcbfc8" text-anchor="middle" font-weight="normal" textLength="19.3" lengthAdjust="spacingAndGlyphs">Nov</text>
<text x="914.6" y="870" font-size="12" fill="#c4c7cf" text-anchor="middle" font-weight="bold" textLength="27" lengthAdjust="spacingAndGlyphs">2026</text>
<text x="1016" y="870" font-size="12" fill="#bcbfc8" text-anchor="middle" font-weight="normal" textLength="20.8" lengthAdjust="spacingAndGlyphs">May</text>
<text x="1068" y="870" font-size="12" fill="#bcbfc8" text-anchor="middle" font-weight="normal" textLength="15.3" lengthAdjust="spacingAndGlyphs">Jul</text>
</g>
</svg>
</body></html>
